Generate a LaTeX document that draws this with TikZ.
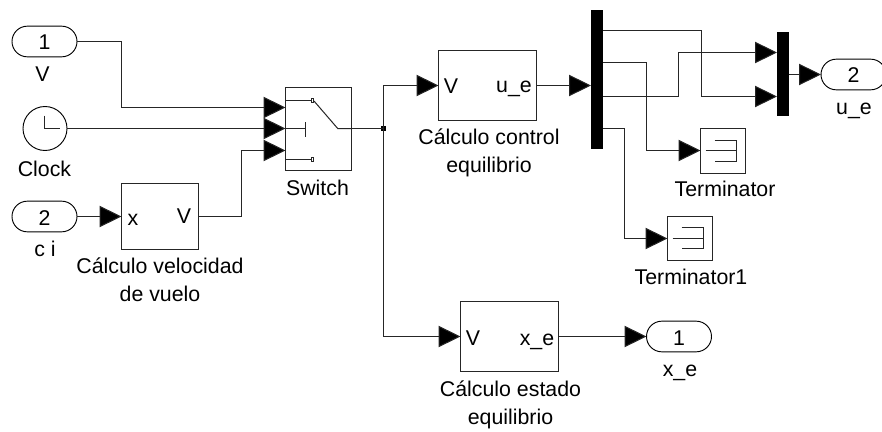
\documentclass[tikz,border=0pt]{standalone}
\usepackage{fontspec}
\setmainfont{Liberation Sans}
\usetikzlibrary{arrows.meta,shapes.misc}
\tikzset{
  wire/.style={line width=0.75pt,draw=black!85},
  feed/.style={wire,-{Triangle[length=16.5pt,width=16pt,fill=black]}},
  block/.style={draw=black!85,line width=0.75pt,rectangle,inner sep=0pt,outer sep=0pt,anchor=north west,fill=white},
  pill/.style={draw=black,line width=0.7pt,rounded rectangle,inner sep=0pt,outer sep=0pt,minimum width=48.75pt,minimum height=23pt},
  bar/.style={fill=black,draw=none,rectangle,inner sep=0pt,outer sep=0pt,anchor=north west},
  lbl/.style={anchor=base,inner sep=0pt,font=\fontsize{16}{21}\selectfont,align=center},
  glyph/.style={line width=0.75pt,draw=black!85},
}
\begin{document}
\begin{tikzpicture}[x=0.75pt,y=-0.75pt]
\useasboundingbox (0,0) rectangle (882,432);
% pills
\node[pill] (inV) at (44.5,41.5) {};
\node[lbl] (inVn) at (44.5,49) {1};
\node[lbl] (inVl) at (42.5,81.7) {V};
\node[pill] (inC) at (44.5,216.5) {};
\node[lbl] (inCn) at (44.5,225) {2};
\node[lbl] (inCl) at (45,256.7) {c i};
\node[pill,anchor=west] (outX) at (646.5,336.5) {};
\node[lbl] (outXn) at (679,345) {1};
\node[lbl] (outXl) at (680,376.7) {x\_e};
\node[pill,anchor=west] (outU) at (821,74.5) {};
\node[lbl] (outUn) at (853.5,82.7) {2};
\node[lbl] (outUl) at (854,114) {u\_e};
% clock
\node[circle,draw=black,line width=0.7pt,minimum size=33pt,inner sep=0pt,outer sep=0pt] (clk) at (45,128.5) {};
\draw[glyph] (clk.center) ++(-0.5,-13) -- ++(0,13) -- ++(15.5,0);
\node[lbl] (clkl) at (44.5,176) {Clock};
% blocks
\node[block,minimum width=57.75pt,minimum height=49.5pt] (vel) at (121.5,183.5) {};
\node[lbl] (velx) at (133,225) {x};
\node[lbl] (velV) at (184,223) {V};
\node[lbl] (vell) at (160,301) {Cálculo velocidad\\de vuelo};
\node[block,minimum width=49.5pt,minimum height=62.25pt] (sw) at (285.5,87.5) {};
\node[lbl] (swl) at (317.5,195) {Switch};
\node[block,minimum width=73.5pt,minimum height=52.5pt] (ctl) at (438.5,50.5) {};
\node[lbl] (ctlV) at (451,93.5) {V};
\node[lbl] (ctlu) at (514,92.7) {u\_e};
\node[lbl] (ctll) at (489,172.7) {Cálculo control\\equilibrio};
\node[block,minimum width=73.5pt,minimum height=52.5pt] (est) at (460.5,301.5) {};
\node[lbl] (estV) at (473,345) {V};
\node[lbl] (estx) at (537,345) {x\_e};
\node[lbl] (estl) at (510.5,424) {Cálculo estado\\equilibrio};
\node[bar,minimum width=9pt,minimum height=104.25pt] (dem) at (591,10) {};
\node[bar,minimum width=9pt,minimum height=63pt] (mux) at (777,32) {};
\node[block,minimum width=33.75pt,minimum height=33.75pt] (t0) at (700.5,128.5) {};
\node[lbl] (t0l) at (725,196.7) {Terminator};
\node[block,minimum width=33.75pt,minimum height=33pt] (t1) at (667.5,216.5) {};
\node[lbl] (t1l) at (691,284.3) {Terminator1};
% switch ports and glyph
\coordinate (swa) at (285.5,107.5);
\coordinate (swb) at (285.5,128.5);
\coordinate (swc) at (285.5,150.5);
\coordinate (swo) at (351.5,128.5);
\draw[glyph] (285.5,100.5) -- (311,100.5) (285.5,159.5) -- (311,159.5) (285.5,128.5) -- (305.5,128.5) (305.5,122) -- (305.5,137);
\draw[glyph,fill=white,line width=0.6pt] (311,98.5) rectangle (313.5,102.5) (311,157.5) rectangle (313.5,161.5);
\draw[glyph] (314,101) -- (337.7,128.5) -- (swo);
% terminator glyphs
\draw[glyph] (705.5,150.5) -- (736.5,150.5) (714.5,140.5) -- (736.5,140.5) -- (736.5,161.5) -- (714.5,161.5);
\draw[glyph] (672.5,238.5) -- (703.5,238.5) (681.5,227.5) -- (703.5,227.5) -- (703.5,248.5) -- (681.5,248.5);
% junction
\node[fill=black,inner sep=0pt,outer sep=0pt,minimum size=4pt,rectangle] (jn) at (383.5,128.5) {};
% connectors
\draw[feed] (inV.east) -- (121.5,41.5) -- (121.5,107.5) -- (swa);
\draw[feed] (clk.east) -- (swb);
\draw[feed] (inC.east) -- (vel.west |- inC.east);
\draw[feed] (vel.east |- inC.east) -- (241.5,216.5) -- (241.5,150.5) -- (swc);
\draw[wire] (swo) -- (jn.center);
\draw[feed] (jn.center) -- (383.5,85.5) -- (ctl.west |- 0,85.5);
\draw[feed] (jn.center) -- (383.5,336.5) -- (est.west |- 0,336.5);
\draw[feed] (ctl.east |- 0,85.5) -- (dem.west |- 0,85.5);
\draw[feed] (dem.east |- 0,30.5) -- (701.5,30.5) -- (701.5,96.5) -- (mux.west |- 0,96.5);
\draw[feed] (dem.east |- 0,96.5) -- (678.5,96.5) -- (678.5,52.5) -- (mux.west |- 0,52.5);
\draw[feed] (dem.east |- 0,62.5) -- (646.5,62.5) -- (646.5,150.5) -- (t0.west |- 0,150.5);
\draw[feed] (dem.east |- 0,128.5) -- (624.5,128.5) -- (624.5,238.5) -- (t1.west |- 0,238.5);
\draw[feed] (mux.east |- 0,74.5) -- (outU.west);
\draw[feed] (est.east |- 0,336.5) -- (outX.west);
\end{tikzpicture}
\end{document}
